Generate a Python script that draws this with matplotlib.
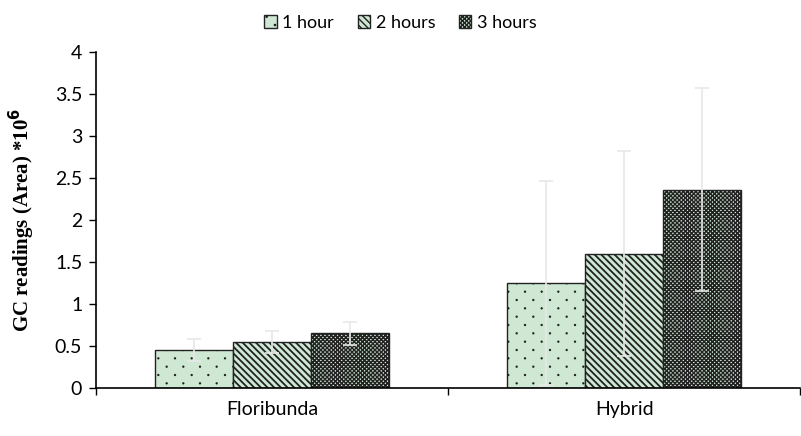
import matplotlib
matplotlib.use("Agg")
import matplotlib.pyplot as plt
import matplotlib.hatch as mhatch
from matplotlib.path import Path
import numpy as np

categories = ["Floribunda", "Hybrid"]
series = ["1 hour", "2 hours", "3 hours"]
values_1h = [0.45, 1.25]
values_2h = [0.55, 1.60]
values_3h = [0.65, 2.36]
err_1h = [0.13, 1.21]
err_2h = [0.13, 1.22]
err_3h = [0.14, 1.21]
yticks = [0, 0.5, 1, 1.5, 2, 2.5, 3, 3.5, 4]


# Sparse, staggered small-dot hatch (like Excel's "5%" pattern)
class SparseDots(mhatch.HatchPatternBase):
    def __init__(self, hatch, density):
        n = int(hatch.count('.') * density)
        circle = Path.unit_circle()
        self.shape_vertices = circle.vertices
        self.shape_codes = circle.codes
        pts = []
        if n > 0:
            rows = 2 * n
            for r in range(rows + 1):
                y = r / rows
                if r % 2 == 0:
                    xs = np.linspace(0, 1, n + 1)
                else:
                    xs = np.linspace(0.5 / n, 1 - 0.5 / n, n)
                pts += [(xx, y) for xx in xs]
        self.pts = pts
        self.num_vertices = len(pts) * len(self.shape_vertices)

    def set_vertices_and_codes(self, vertices, codes):
        r = 0.006
        k = len(self.shape_vertices)
        for i, (xx, yy) in enumerate(self.pts):
            vertices[i * k:(i + 1) * k] = self.shape_vertices * r + (xx, yy)
            codes[i * k:(i + 1) * k] = self.shape_codes


mhatch._hatch_types = [SparseDots if t is mhatch.SmallFilledCircles else t
                       for t in mhatch._hatch_types]

plt.rcParams['hatch.color'] = 'black'
FONT = 'Lato'

fig = plt.figure(figsize=(8.01, 4.36), dpi=100)
ax = fig.add_axes([0.12, 0.110, 0.879, 0.771])

x = np.arange(len(categories))
w = 0.222
hatches = ['.', '\\' * 5, 'x' * 8]
hlw = [0.8, 1.3, 1.05]
face = '#cfe8d3'
vals = [values_1h, values_2h, values_3h]
errs = [err_1h, err_2h, err_3h]
for i, (v, e, h, lab) in enumerate(zip(vals, errs, hatches, series)):
    pos = x + (i - 1) * w
    with plt.rc_context({'hatch.linewidth': hlw[i]}):
        ax.bar(pos, v, width=w, color=face, edgecolor='#222222', linewidth=1.0,
               hatch=h, label=lab, zorder=2)
    ax.errorbar(pos, v, yerr=e, fmt='none', ecolor='#e8e8e8', elinewidth=1.2,
                capsize=5, capthick=1.2, zorder=3)

ax.set_xlim(-0.5, 1.5)
ax.set_ylim(0, 4)
ax.set_yticks(yticks)
ax.set_yticklabels([f"{t:g}" for t in yticks], fontfamily=FONT, fontsize=14)
ax.set_xticks(x)
ax.set_xticklabels(categories, fontfamily=FONT, fontsize=14)
ax.set_xticks([-0.5, 0.5, 1.5], minor=True)
ax.tick_params(axis='x', which='major', length=0, pad=9)
ax.tick_params(axis='x', which='minor', length=5, width=1, direction='out')
ax.tick_params(axis='y', length=5, width=1, direction='out', pad=5)
for s in ['top', 'right']:
    ax.spines[s].set_visible(False)
ax.spines['left'].set_linewidth(1.2)
ax.spines['bottom'].set_linewidth(1.2)

ax.set_ylabel(r"GC readings (Area) *10$^{\mathbf{6}}$", fontfamily='Liberation Serif',
              fontweight='bold', fontsize=15, labelpad=13)

fig.legend(loc='center', bbox_to_anchor=(0.50, 0.948), ncol=3, frameon=False,
           prop={'family': FONT, 'size': 13}, handlelength=0.7,
           handleheight=0.7, handletextpad=0.3, columnspacing=1.3)

fig.savefig("out.png", dpi=100)
